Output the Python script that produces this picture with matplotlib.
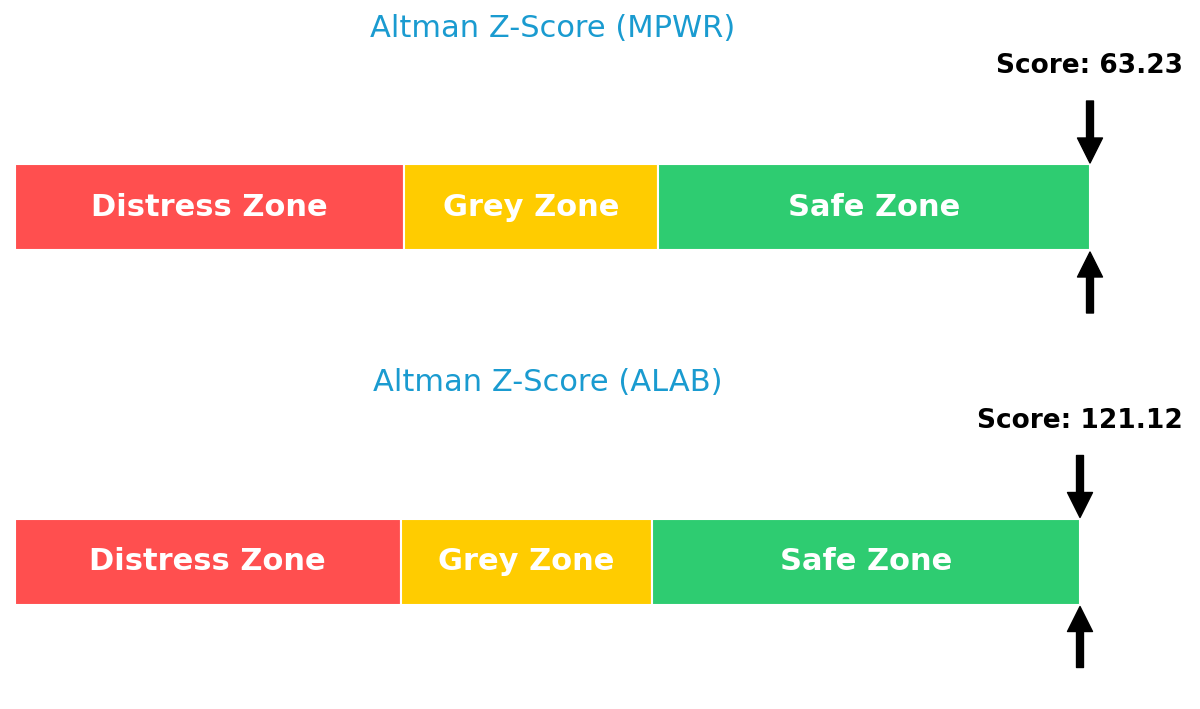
import matplotlib
matplotlib.use('Agg')
import matplotlib.pyplot as plt

# zone data
zone_names = ['Distress Zone', 'Grey Zone', 'Safe Zone']
zone_starts = [0.0, 1.81, 2.99]
zone_ends = [1.81, 2.99, 5.0]
zone_colors = ['#ff4f4f', '#ffcc00', '#2ecc71']

tickers = ['MPWR', 'ALAB']
scores = [63.23, 121.12]
max_display = 5.0

W, H = 1200, 709
fig = plt.figure(figsize=(W / 100, H / 100), dpi=100)

# pixel layout (left, bar center from top, width of 0..max_display)
layouts = [(15, 207, 1075), (15, 561.5, 1065)]
ax_h = 290

for i in range(2):
    left, yc, wpx = layouts[i]
    ax = fig.add_axes([left / W, (H - yc - ax_h / 2) / H, wpx / W, ax_h / H])
    ax.set_xlim(0, max_display)
    ax.set_ylim(-1.45, 1.45)
    ax.axis('off')

    for name, s, e, c in zip(zone_names, zone_starts, zone_ends, zone_colors):
        ax.barh(0, e - s, left=s, height=0.86, color=c, edgecolor='white', linewidth=1.5)
        ax.text((s + e) / 2, 0, name, ha='center', va='center', color='white',
                fontsize=22, fontweight='bold')

    x = min(scores[i], max_display)
    arrow = dict(facecolor='black', edgecolor='black', width=5, headwidth=18, headlength=18)
    ax.annotate('', xy=(x, 0.44), xytext=(x, 1.06), arrowprops=arrow, annotation_clip=False)
    ax.annotate('', xy=(x, -0.45), xytext=(x, -1.06), arrowprops=arrow, annotation_clip=False)
    ax.text(x, 1.41, 'Score: %.2f' % scores[i], ha='center', va='center', fontsize=19,
            fontweight='bold', color='black', clip_on=False)

    ax.text(max_display / 2, 1.79, 'Altman Z-Score (%s)' % tickers[i], ha='center', va='center',
            fontsize=22, color='#1a9bd0', clip_on=False)

plt.savefig('out.png', dpi=100)
